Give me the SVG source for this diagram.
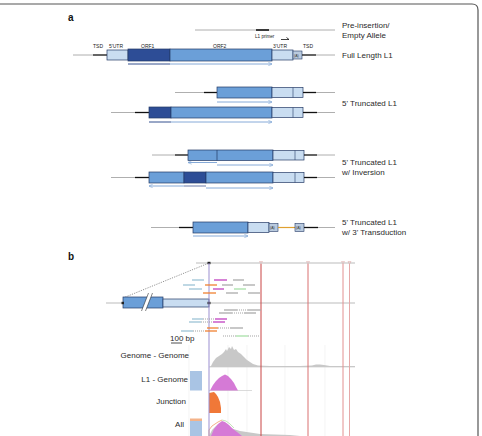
<svg xmlns="http://www.w3.org/2000/svg" width="482" height="436" viewBox="0 0 482 436">
<style>
.lbl{font-family:"Liberation Sans",Arial,sans-serif;font-size:8px;fill:#2a2a2a}
.sm{font-family:"Liberation Sans",Arial,sans-serif;font-size:5px;fill:#222}
.tiny{font-family:"Liberation Sans",Arial,sans-serif;font-size:3.6px;fill:#333}
.pl{font-family:"Liberation Sans",Arial,sans-serif;font-size:10px;font-weight:bold;fill:#111}
.g{stroke:#9a9a9a;stroke-width:0.8;fill:none}
.k{stroke:#111;stroke-width:1.3;fill:none}
.dk{fill:#2d4d96;stroke:#243a66;stroke-width:0.7}
.md{fill:#6b9fd8;stroke:#243a66;stroke-width:0.7}
.lt{fill:#c9ddf1;stroke:#243a66;stroke-width:0.7}
.pa{fill:#b9cade;stroke:#243a66;stroke-width:0.6}
.adk{stroke:#34508f;stroke-width:1;fill:none}
.alt{stroke:#86aad8;stroke-width:1;fill:none}
.r{stroke-width:1.3;fill:none;stroke-linecap:butt}
.dot{stroke-dasharray:1,1;stroke-width:0.9;fill:none}
.red{stroke-width:1;fill:none}
.grid{stroke:#ececec;stroke-width:0.6;fill:none}
</style>
<defs>
<marker id="ah" viewBox="0 0 6 6" refX="5.5" refY="3" markerWidth="4" markerHeight="4" orient="auto-start-reverse">
<path d="M0,0.5 L6,3 L0,5.5" fill="none" stroke="#86aad8" stroke-width="1"/>
</marker>
</defs>
<rect width="482" height="436" fill="#fff"/>
<path d="M0,4 H472 Q478,4 478,10 V436" fill="none" stroke="#555" stroke-width="1.2"/>
<text class="pl" x="68" y="21">a</text>
<text class="pl" x="68" y="260">b</text>

<g id="pre-insertion">
<line class="g" x1="195" y1="30" x2="335" y2="30"/>
<line x1="256" y1="30" x2="269" y2="30" stroke="#111" stroke-width="1.6"/>
<text class="sm" x="255" y="38" style="font-size:4.6px">L1 primer</text>
<path d="M281,39.5 H289 L286.5,37.5" fill="none" stroke="#111" stroke-width="0.8"/>
<text class="lbl" x="342" y="28">Pre-insertion/</text>
<text class="lbl" x="342" y="38">Empty Allele</text>
</g>

<g id="full-length">
<line class="g" x1="73" y1="55" x2="93" y2="55"/>
<line class="k" x1="93" y1="55" x2="107" y2="55"/>
<rect class="lt" x="107" y="50" width="21" height="10"/>
<rect class="dk" x="128" y="49" width="42" height="12"/>
<rect class="md" x="170" y="49" width="102" height="12"/>
<rect class="lt" x="272" y="50" width="21" height="10"/>
<rect class="pa" x="293" y="51" width="9" height="8"/>
<text class="tiny" x="294" y="56.5">(A)</text>
<line class="k" x1="302" y1="55" x2="316" y2="55"/>
<line class="g" x1="316" y1="55" x2="335" y2="55"/>
<text class="sm" x="93" y="48">TSD</text>
<text class="sm" x="109" y="48">5'UTR</text>
<text class="sm" x="141" y="48">ORF1</text>
<text class="sm" x="213" y="48">ORF2</text>
<text class="sm" x="273" y="48">3'UTR</text>
<text class="sm" x="303" y="48">TSD</text>
<text class="lbl" x="342" y="58">Full Length L1</text>
</g>

<g id="trunc1">
<line class="g" x1="175" y1="92.5" x2="204" y2="92.5"/>
<line class="k" x1="204" y1="92.5" x2="217" y2="92.5"/>
<rect class="md" x="217" y="87" width="55" height="11"/>
<rect class="lt" x="272" y="87.5" width="31" height="10"/>
<line x1="293" y1="87.5" x2="293" y2="97.5" stroke="#243a66" stroke-width="0.6"/>
<line class="k" x1="303" y1="92.5" x2="316" y2="92.5"/>
<line class="g" x1="316" y1="92.5" x2="335" y2="92.5"/>
</g>

<g id="trunc2">
<line class="g" x1="111" y1="112.5" x2="135" y2="112.5"/>
<line class="k" x1="135" y1="112.5" x2="149" y2="112.5"/>
<rect class="dk" x="149" y="107" width="22" height="11"/>
<rect class="md" x="171" y="107" width="101" height="11"/>
<rect class="lt" x="272" y="107.5" width="31" height="10"/>
<line x1="293" y1="107.5" x2="293" y2="117.5" stroke="#243a66" stroke-width="0.6"/>
<line class="k" x1="303" y1="112.5" x2="317" y2="112.5"/>
<line class="g" x1="317" y1="112.5" x2="335" y2="112.5"/>
<text class="lbl" x="342" y="106">5' Truncated L1</text>
</g>

<g id="inv1">
<line class="g" x1="152" y1="155" x2="175" y2="155"/>
<line class="k" x1="175" y1="155" x2="188" y2="155"/>
<rect class="md" x="188" y="150" width="85" height="10.5"/>
<line x1="217" y1="150" x2="217" y2="160.5" stroke="#243a66" stroke-width="0.7"/>
<rect class="lt" x="273" y="150.5" width="31" height="9.5"/>
<line x1="295" y1="150.5" x2="295" y2="160" stroke="#243a66" stroke-width="0.6"/>
<line class="k" x1="304" y1="155" x2="317" y2="155"/>
<line class="g" x1="317" y1="155" x2="335" y2="155"/>
</g>

<g id="inv2">
<line class="g" x1="111" y1="177.5" x2="135" y2="177.5"/>
<line class="k" x1="135" y1="177.5" x2="149" y2="177.5"/>
<rect class="md" x="149" y="172" width="35" height="11"/>
<rect class="dk" x="184" y="172" width="22" height="11"/>
<rect class="md" x="206" y="172" width="67" height="11"/>
<rect class="lt" x="273" y="172.5" width="31" height="10"/>
<line x1="295" y1="172.5" x2="295" y2="182.5" stroke="#243a66" stroke-width="0.6"/>
<line class="k" x1="304" y1="177.5" x2="317" y2="177.5"/>
<line class="g" x1="317" y1="177.5" x2="335" y2="177.5"/>
<text class="lbl" x="342" y="165">5' Truncated L1</text>
<text class="lbl" x="342" y="175">w/ Inversion</text>
</g>

<g id="transduction">
<line class="g" x1="151" y1="227.5" x2="179" y2="227.5"/>
<line class="k" x1="179" y1="227.5" x2="193" y2="227.5"/>
<rect class="md" x="193" y="222" width="55" height="11"/>
<rect class="lt" x="248" y="222.5" width="21" height="10"/>
<rect class="pa" x="269" y="223.5" width="9" height="8"/>
<text class="tiny" x="270" y="229">(A)</text>
<line x1="278" y1="227.5" x2="295" y2="227.5" stroke="#e0a030" stroke-width="1.2"/>
<rect class="pa" x="295" y="223.5" width="9" height="8"/>
<text class="tiny" x="296" y="229">(A)</text>
<line class="k" x1="304" y1="227.5" x2="318" y2="227.5"/>
<line class="g" x1="318" y1="227.5" x2="335" y2="227.5"/>
<text class="lbl" x="342" y="225">5' Truncated L1</text>
<text class="lbl" x="342" y="235">w/ 3' Transduction</text>
</g>

<g id="connectors">
<line class="adk" x1="128" y1="64" x2="170" y2="64"/>
<line class="alt" x1="170" y1="64" x2="272" y2="64" marker-end="url(#ah)"/>
<line class="alt" x1="217" y1="102" x2="272" y2="102" marker-end="url(#ah)"/>
<line class="adk" x1="149" y1="122" x2="171" y2="122"/>
<line class="alt" x1="171" y1="122" x2="272" y2="122" marker-end="url(#ah)"/>
<line class="alt" x1="217" y1="162.5" x2="188" y2="162.5" marker-end="url(#ah)"/>
<line class="alt" x1="217" y1="165" x2="273" y2="165" marker-end="url(#ah)"/>
<line class="alt" x1="184" y1="186" x2="149" y2="186" marker-end="url(#ah)"/>
<line x1="184" y1="186" x2="206" y2="186" stroke="#6a7aa8" stroke-width="1"/>
<line class="alt" x1="206" y1="188" x2="273" y2="188" marker-end="url(#ah)"/>
<line class="alt" x1="193" y1="236" x2="248" y2="236" marker-end="url(#ah)"/>
<line x1="123" y1="298" x2="209" y2="263" stroke="#666" stroke-width="0.7" stroke-dasharray="1.2,1.2"/>
</g>

<g id="panel-b-grid">
<line class="grid" x1="189" y1="345" x2="189" y2="436"/>
<line class="grid" x1="228" y1="345" x2="228" y2="436"/>
<line class="grid" x1="247" y1="345" x2="247" y2="436"/>
<line class="grid" x1="285" y1="345" x2="285" y2="436"/>
<line class="grid" x1="325" y1="345" x2="325" y2="436"/>
<line x1="196" y1="263" x2="355" y2="263" stroke="#bbb" stroke-width="1"/>
<line x1="106" y1="303" x2="355" y2="303" stroke="#bbb" stroke-width="1"/>
<line x1="209" y1="367" x2="355" y2="367" stroke="#ccc" stroke-width="0.7"/>
<line x1="209" y1="390.5" x2="252" y2="390.5" stroke="#ccc" stroke-width="0.7"/>
</g>

<g id="locus">
<rect class="md" x="123" y="297" width="40" height="11"/>
<rect class="lt" x="163" y="299" width="46" height="8"/>
<path d="M143.5,311 L150.5,293" stroke="#fff" stroke-width="3.5" fill="none"/>
<path d="M141.5,311 L148.5,293 M145.5,311 L152.5,293" stroke="#333" stroke-width="0.6" fill="none"/>
<rect x="207.5" y="261.8" width="3" height="2.4" fill="#222"/>
<rect x="207.5" y="301.8" width="3" height="2.4" fill="#222"/>
<rect x="121.5" y="301.8" width="2.5" height="2.4" fill="#222"/>
</g>

<g id="histograms">
<path d="M209,367 L211,366 L213,362 L216,358 L219,356 L222,354 L224,352 L226,349 L227,351 L229,347 L231,349 L232,346 L234,350 L236,349 L238,352 L241,354 L244,357 L247,360 L250,362 L253,364 L258,365.5 L270,366 L300,366 L312,365.5 L316,364.5 L320,364.5 L324,365 L330,366 L355,366 L355,367 Z" fill="#c8c8c8"/>
<rect x="190" y="371" width="12" height="19.5" fill="#a9c4e4"/>
<path d="M210,390.5 L213,385 L216,381 L219,378 L222,376 L225,374.5 L228,376 L231,379 L234,383 L236,387 L238,390.5 Z" fill="#d57ad6"/>
<path d="M209,413 L209,393 L214,392 L216,394 L218,397 L220,402 L221,408 L221,413 Z" fill="#f07838"/>
<rect x="190" y="421" width="12" height="15" fill="#a9c4e4"/>
<rect x="190" y="418.5" width="12" height="2.5" fill="#f4b38a"/>
<path d="M209,436 L212,430 L216,426 L220,423 L224,424 L230,428 L240,431 L260,434 L290,435 L300,436 Z" fill="#c8c8c8"/>
<path d="M211,436 L214,429 L218,424 L222,421 L225,422 L229,425 L233,429 L237,432 L242,436 Z" fill="#d57ad6"/>
<path d="M209,436 L209,430 L212,426 L215,424 L218,422 L222,420" fill="none" stroke="#f4b38a" stroke-width="1"/>
<path d="M222,420 L226,421 L230,424 L234,428" fill="none" stroke="#b8dca8" stroke-width="0.8"/>
</g>

<g id="markers">
<line x1="209" y1="263" x2="209" y2="436" stroke="#9b8fd0" stroke-width="1"/>
<line class="red" x1="261" y1="264" x2="261" y2="436" style="stroke:#c94444"/>
<line class="red" x1="308" y1="264" x2="308" y2="436" style="stroke:#d97070"/>
<line class="red" x1="343" y1="264" x2="343" y2="436" style="stroke:#e29090"/>
<line class="red" x1="349.5" y1="264" x2="349.5" y2="436" style="stroke:#e6a8a8"/>
<path d="M259.5,261.5 H262.5 L261,264 Z M306.5,261.5 H309.5 L308,264 Z M341.5,261.5 H344.5 L343,264 Z M348,261.5 H351 L349.5,264 Z" fill="none" stroke="#d9a0a0" stroke-width="0.5"/>
</g>

<g id="reads">
<line class="r" x1="192" y1="280" x2="204" y2="280" stroke="#9cc3d5"/>
<line class="r" x1="214" y1="280" x2="227" y2="280" stroke="#c040c0"/>
<line class="r" x1="233" y1="280" x2="244" y2="280" stroke="#aaa"/>
<line class="r" x1="183" y1="285" x2="195" y2="285" stroke="#9cc3d5"/>
<line class="r" x1="205" y1="285" x2="217" y2="285" stroke="#f08030"/>
<line class="r" x1="222" y1="285" x2="233" y2="285" stroke="#aaa"/>
<line class="r" x1="243" y1="285" x2="255" y2="285" stroke="#aaa"/>
<line class="r" x1="189" y1="289" x2="202" y2="289" stroke="#9cc3d5"/>
<line class="r" x1="213" y1="289" x2="224" y2="289" stroke="#c040c0"/>
<line class="r" x1="234" y1="289" x2="246" y2="289" stroke="#a8e0a8"/>
<line class="r" x1="203" y1="293" x2="216" y2="293" stroke="#f08030"/>
<line class="r" x1="226" y1="293" x2="238" y2="293" stroke="#aaa"/>
<line class="r" x1="248" y1="293" x2="260" y2="293" stroke="#aaa"/>

<line class="r" x1="224" y1="310" x2="237" y2="310" stroke="#aaa"/>
<line class="dot" x1="237" y1="310" x2="248" y2="310" stroke="#999"/>
<line class="r" x1="248" y1="310" x2="261" y2="310" stroke="#aaa"/>
<line class="r" x1="219" y1="313" x2="232" y2="313" stroke="#aaa"/>
<line class="dot" x1="232" y1="313" x2="244" y2="313" stroke="#999"/>
<line class="r" x1="244" y1="313" x2="256" y2="313" stroke="#aaa"/>
<line class="r" x1="192" y1="319" x2="203" y2="319" stroke="#9cc3d5"/>
<line class="dot" x1="203" y1="319" x2="215" y2="319" stroke="#999"/>
<line class="r" x1="215" y1="319" x2="227" y2="319" stroke="#c040c0"/>
<line class="r" x1="189" y1="322" x2="201" y2="322" stroke="#9cc3d5"/>
<line class="dot" x1="201" y1="322" x2="213" y2="322" stroke="#999"/>
<line class="r" x1="213" y1="322" x2="225" y2="322" stroke="#c040c0"/>
<line class="r" x1="207" y1="328" x2="218" y2="328" stroke="#f08030"/>
<line class="dot" x1="218" y1="328" x2="230" y2="328" stroke="#999"/>
<line class="r" x1="230" y1="328" x2="243" y2="328" stroke="#aaa"/>
<line class="r" x1="181" y1="331" x2="193" y2="331" stroke="#9cc3d5"/>
<line class="dot" x1="193" y1="331" x2="205" y2="331" stroke="#999"/>
<line class="r" x1="205" y1="331" x2="217" y2="331" stroke="#f08030"/>
<line class="dot" x1="223" y1="336" x2="236" y2="336" stroke="#999"/>
<line class="r" x1="236" y1="336" x2="248" y2="336" stroke="#a8e0a8"/>
<line class="dot" x1="248" y1="336" x2="260" y2="336" stroke="#999"/>
</g>

<g id="labels-b">
<text class="lbl" x="170" y="341">100 bp</text>
<line x1="171" y1="343" x2="182" y2="343" stroke="#222" stroke-width="0.8"/>
<text class="lbl" x="189" y="358" text-anchor="end">Genome - Genome</text>
<text class="lbl" x="188" y="382" text-anchor="end">L1 - Genome</text>
<text class="lbl" x="186" y="404" text-anchor="end">Junction</text>
<text class="lbl" x="184" y="427" text-anchor="end">All</text>
</g>
</svg>
